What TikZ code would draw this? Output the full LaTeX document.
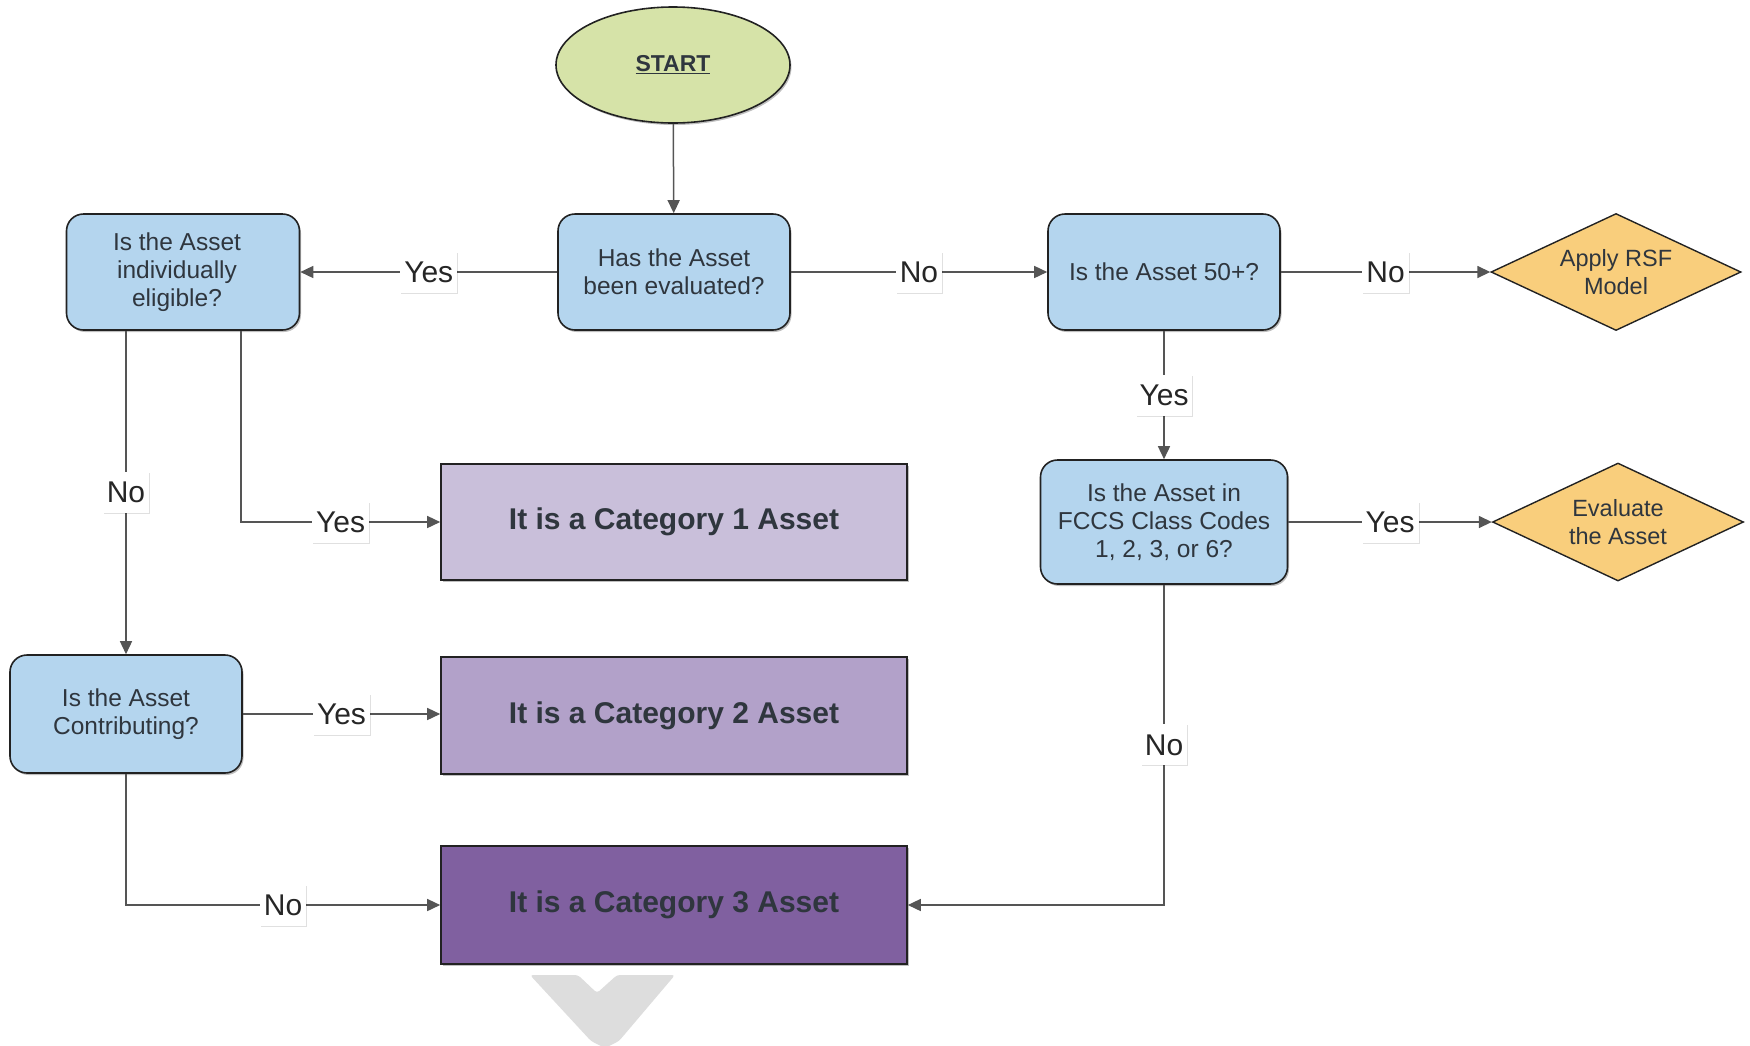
\documentclass[tikz,border=0pt]{standalone}
\usepackage{fontspec}
\setmainfont{Liberation Sans}
\usetikzlibrary{shapes.geometric,arrows.meta,calc,shadows}
\definecolor{qblue}{HTML}{B4D5EE}
\definecolor{qgreen}{HTML}{D6E3A8}
\definecolor{qorange}{HTML}{F9CE7C}
\definecolor{qcatA}{HTML}{C9BFDA}
\definecolor{qcatB}{HTML}{B2A1C9}
\definecolor{qcatC}{HTML}{8060A0}
\definecolor{qedge}{HTML}{222222}
\definecolor{qline}{HTML}{555555}
\definecolor{qtext}{HTML}{2F363E}
\definecolor{qchev}{HTML}{DDDDDD}
\begin{document}
\begin{tikzpicture}[x=1pt,y=-1pt,
  softshadow/.style={drop shadow={shadow xshift=1.5pt,shadow yshift=-2pt,opacity=0.25,fill=black}},
  qbox/.style={rectangle,rounded corners=17pt,draw=qedge,line width=1.6pt,fill=qblue,
    minimum width=232pt,minimum height=116pt,align=center,text=qtext,inner sep=0pt,
    font=\fontsize{24.5}{28}\selectfont,softshadow},
  catbox/.style={rectangle,draw=qedge,line width=1.6pt,minimum width=466pt,minimum height=117pt,
    font=\bfseries\fontsize{30}{36}\selectfont,text=qtext,softshadow},
  decide/.style={diamond,draw=qedge,line width=1.4pt,fill=qorange,aspect=2.13,
    minimum width=250pt,minimum height=117pt,inner sep=0pt,align=center,text=qtext,
    font=\fontsize{23.5}{27.5}\selectfont},
  lbl/.style={fill=white,inner xsep=4pt,inner ysep=2pt,minimum height=41pt,
    font=\fontsize{30}{34}\selectfont,text=black!85,
    drop shadow={shadow xshift=1pt,shadow yshift=-1pt,opacity=0.12,fill=black}},
  conn/.style={draw=qline,line width=1.5pt,-{Triangle[length=13pt,width=12pt]}}
]
\useasboundingbox (0,0) rectangle (1750,1045);

% start
\node[ellipse,draw=qedge,line width=1.6pt,fill=qgreen,minimum width=234pt,minimum height=116pt,
  text=qtext,font=\bfseries\fontsize{23}{28}\selectfont,softshadow] (start) at (673,65) {\underline{START}};

% decision boxes
\node[qbox] (has) at (674,272) {Has the Asset\\been evaluated?};
\node[qbox,minimum width=233pt] (elig) at (183,272) {Is the Asset\kern12pt\\individually\kern12pt\\eligible?\kern12pt};
\node[qbox] (age) at (1164,272) {Is the Asset 50+?};
\node[qbox,minimum width=247pt,minimum height=124pt] (fccs) at (1164,522) {Is the Asset in\\FCCS Class Codes\\1, 2, 3, or 6?};
\node[qbox,minimum height=118pt] (contrib) at (126,714) {Is the Asset\\Contributing?};

% outcome diamonds
\node[decide] (rsf) at (1616,272) {Apply RSF\\Model};
\node[decide,minimum width=251pt,minimum height=118pt] (evalu) at (1618,522) {Evaluate\\the Asset};

% category boxes
\node[catbox,fill=qcatA,minimum height=116pt] (cat1) at (674,522) {It is a Category 1 Asset};
\node[catbox,fill=qcatB] (cat2) at (674,715.5) {It is a Category 2 Asset};
\node[catbox,fill=qcatC,minimum height=118pt] (cat3) at (674,905) {It is a Category 3 Asset};

% connectors
\draw[conn] (start) -- (has);
\draw[conn] (has) -- node[lbl]{Yes} (elig);
\draw[conn] (has) -- node[lbl]{No} (age);
\draw[conn] (age) -- node[lbl]{No} (rsf);
\draw[conn] (age) -- node[lbl]{Yes} (fccs);
\draw[conn] (fccs) -- node[lbl]{Yes} (evalu);
\draw[conn] (fccs.south) |- node[lbl,pos=0.25]{No} (cat3.east);
\draw[conn] ($(elig.south)+(-57,0)$) -- node[lbl]{No} (contrib.north);
\draw[conn] ($(elig.south)+(58,0)$) |- node[lbl,pos=0.75]{Yes} (cat1.west);
\draw[conn] (contrib.east) -- node[lbl]{Yes} (contrib.east -| cat2.west);
\draw[conn] (contrib.south) |- node[lbl,pos=0.75]{No} (cat3.west);

% grey chevron below
\fill[qchev,rounded corners=3pt] (530,975) -- (578,975) -- (597,993) -- (617,975) -- (675,975)
  -- (619,1041) -- (605,1048) -- (591,1041) -- cycle;
\end{tikzpicture}
\end{document}
